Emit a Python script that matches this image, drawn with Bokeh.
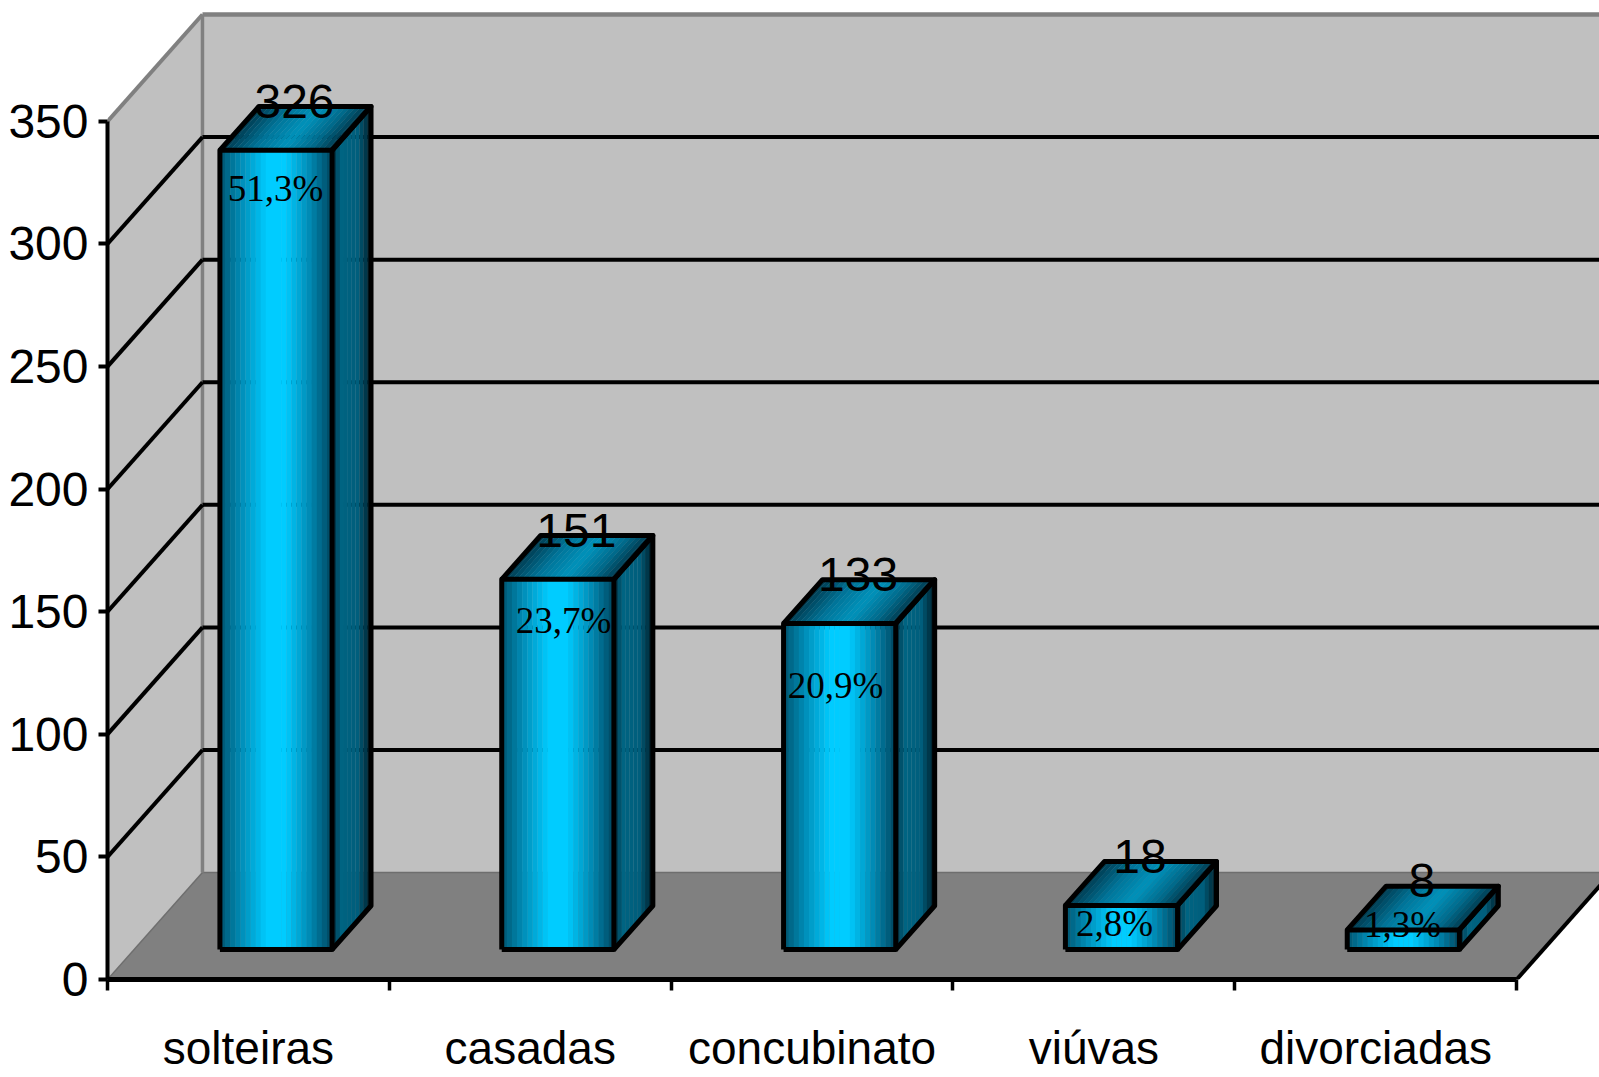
from bokeh.plotting import figure
from bokeh.models import Range1d, FixedTicker
from bokeh.core.properties import value
from bokeh.embed import file_html
from bokeh.resources import INLINE

categories = ["solteiras", "casadas", "concubinato", "viúvas", "divorciadas"]
counts = [326, 151, 133, 18, 8]
percent_labels = ["51,3%", "23,7%", "20,9%", "2,8%", "1,3%"]
percent_x = [0.596, 1.618, 2.583, 3.573, 4.595]
percent_y = [322.6, 146.4, 119.9, 22.8, 22.4]
y_ticks = [0, 50, 100, 150, 200, 250, 300, 350]
wall_grid = [50, 100, 150, 200, 250, 300]

SANS = "Liberation Sans"
SERIF = "Liberation Serif"
X_MAX = 5.294
Y_MAX = 399.3
DX = 0.337      # depth of the floor in category units
DY = 43.6       # depth of the floor in value units
BAR_W = 0.398
Z0, Z1 = 0.28, 0.69

p = figure(width=1599, height=1077, output_backend="svg", toolbar_location=None,
           x_range=Range1d(0, X_MAX), y_range=Range1d(0, Y_MAX),
           min_border_left=107, min_border_right=0, min_border_top=0, min_border_bottom=98,
           outline_line_color=None, background_fill_color="white", border_fill_color="white")
p.grid.visible = False

# walls and floor
WALL = "#c0c0c0"
EDGE = "#808080"
p.patch([0, DX, DX, 0], [0, DY, 350 + DY, 350], fill_color=WALL, line_color=None)
p.patch([DX, X_MAX, X_MAX, DX], [DY, DY, 350 + DY, 350 + DY], fill_color=WALL, line_color=None)
p.patch([0, 5, 5 + DX, X_MAX, X_MAX, DX], [0, 0, DY, DY, DY, DY], fill_color=EDGE, line_color=None)
p.line([DX, X_MAX], [DY, DY], line_color="#6e6e6e", line_width=1.5)
p.line([DX, DX], [DY, 350 + DY], line_color=EDGE, line_width=3.5)
p.line([DX, X_MAX], [350 + DY, 350 + DY], line_color=EDGE, line_width=4.5)
p.line([0, DX], [350, 350 + DY], line_color=EDGE, line_width=4)
p.line([0, DX], [0, DY], line_color="#6e6e6e", line_width=1.5)
p.line([5, 5 + DX], [0, DY], line_color="black", line_width=4)

# grid lines on the walls
for v in wall_grid:
    p.line([0, DX], [v, v + DY], line_color="black", line_width=4)
    p.line([DX, X_MAX], [v + DY, v + DY], line_color="black", line_width=4)


def hex2rgb(h):
    return [int(h[i:i + 2], 16) for i in (1, 3, 5)]


def ramp(stops, n):
    out = []
    for i in range(n):
        t = (i + 0.5) / n
        for (t0, c0), (t1, c1) in zip(stops, stops[1:]):
            if t0 <= t <= t1:
                f = (t - t0) / (t1 - t0)
                a, b = hex2rgb(c0), hex2rgb(c1)
                out.append("#%02x%02x%02x" % tuple(round(x + (y - x) * f) for x, y in zip(a, b)))
                break
    return out


FRONT = ramp([(0, "#005570"), (0.2, "#0090bb"), (0.42, "#00ccff"), (0.58, "#00ccff"), (0.78, "#0090bb"), (1, "#004660")], 22)
TOP = ramp([(0, "#00384c"), (0.3, "#00759a"), (0.55, "#0092bb"), (0.8, "#00698a"), (1, "#003548")], 22)
SIDE = ramp([(0, "#002c3c"), (0.22, "#006482"), (0.65, "#005e7c"), (1, "#001c26")], 10)

xs, ys, cs = [], [], []
ox, oy = [], []
for i, v in enumerate(counts):
    c = i + 0.5 + 0.0035
    left = c - BAR_W / 2 + Z0 * DX
    right = left + BAR_W
    base = Z0 * DY
    top = base + v
    ddx = (Z1 - Z0) * DX
    ddy = (Z1 - Z0) * DY
    for k, col in enumerate(FRONT):
        a = left + BAR_W * k / len(FRONT)
        b = left + BAR_W * min(1, (k + 1.06) / len(FRONT))
        xs.append([a, b, b, a]); ys.append([base, base, top, top]); cs.append(col)
    for k, col in enumerate(TOP):
        f0, f1 = k / len(TOP), min(1, (k + 1.06) / len(TOP))
        a, b = left + BAR_W * f0, left + BAR_W * f1
        xs.append([a, b, b + ddx, a + ddx]); ys.append([top, top, top + ddy, top + ddy]); cs.append(col)
    for k, col in enumerate(SIDE):
        f0, f1 = k / len(SIDE), min(1, (k + 1.06) / len(SIDE))
        xs.append([right + ddx * f0, right + ddx * f1, right + ddx * f1, right + ddx * f0])
        ys.append([base + ddy * f0, base + ddy * f1, top + ddy * f1, top + ddy * f0]); cs.append(col)
    # outlines
    ox += [[left, right, right, left, left],
           [left, left + ddx, right + ddx, right],
           [right, right + ddx, right + ddx, right]]
    oy += [[base, base, top, top, base],
           [top, top + ddy, top + ddy, top],
           [base, base + ddy, top + ddy, top]]

p.patches(xs, ys, fill_color=cs, line_color=None)
p.multi_line(ox, oy, line_color="black", line_width=5, line_join="round")

# value labels, above the top face of each bar
vx = [i + 0.5 + (Z0 + Z1) / 2 * DX for i in range(len(counts))]
vy = [v + Z1 * DY + 2.2 for v in counts]
p.text(vx, vy, text=[str(v) for v in counts], text_font=value(SANS), text_font_size="48px",
       text_color="black", text_align="center", text_baseline="middle")

# percentage labels on the front faces
p.text(percent_x, percent_y, text=percent_labels, text_font=value(SERIF), text_font_size="37px",
       text_color="black", text_align="center", text_baseline="middle")

# axes
ya = p.yaxis[0]
ya.ticker = FixedTicker(ticks=y_ticks)
ya.bounds = (0, 350)
ya.axis_line_color = "black"
ya.axis_line_width = 4
ya.major_tick_line_color = "black"
ya.major_tick_line_width = 4
ya.major_tick_out = 9
ya.major_tick_in = 0
ya.minor_tick_line_color = None
ya.major_label_standoff = 10
ya.major_label_text_font = SANS
ya.major_label_text_font_size = "48px"
ya.major_label_text_color = "black"

xa = p.xaxis[0]
xa.ticker = FixedTicker(ticks=[i + 0.5 for i in range(len(categories))],
                        minor_ticks=list(range(len(categories) + 1)))
xa.major_label_overrides = {i + 0.5: n for i, n in enumerate(categories)}
xa.bounds = (0, 5)
xa.axis_line_color = "black"
xa.axis_line_width = 5
xa.major_tick_line_color = None
xa.major_tick_out = 0
xa.major_tick_in = 0
xa.minor_tick_line_color = "black"
xa.minor_tick_line_width = 3.5
xa.minor_tick_out = 11
xa.minor_tick_in = 0
xa.major_label_standoff = 31
xa.major_label_text_font = SANS
xa.major_label_text_font_size = "46px"
xa.major_label_text_color = "black"

open("out.html", "w").write(file_html(p, INLINE))
